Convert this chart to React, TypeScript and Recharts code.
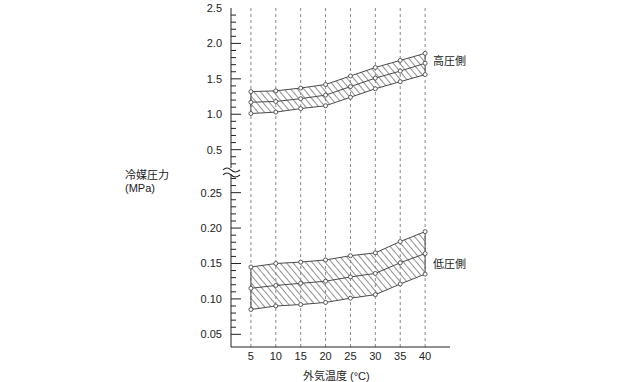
import { Area, ComposedChart, Line, ReferenceLine, XAxis, YAxis } from "recharts";

const temps = [5, 10, 15, 20, 25, 30, 35, 40];

// high pressure side (MPa)
const highUpper = [1.32, 1.33, 1.37, 1.42, 1.54, 1.66, 1.76, 1.86];
const highMid = [1.17, 1.18, 1.22, 1.27, 1.39, 1.51, 1.61, 1.72];
const highLower = [1.01, 1.03, 1.08, 1.12, 1.24, 1.36, 1.46, 1.56];

// low pressure side (MPa)
const lowUpper = [0.145, 0.15, 0.152, 0.155, 0.161, 0.165, 0.181, 0.195];
const lowMid = [0.115, 0.119, 0.122, 0.125, 0.131, 0.136, 0.151, 0.164];
const lowLower = [0.085, 0.09, 0.092, 0.095, 0.101, 0.106, 0.121, 0.135];

const highTickLabels = [0.5, 1.0, 1.5, 2.0, 2.5];
const lowTickLabels = [0.05, 0.1, 0.15, 0.2, 0.25];
const xTicks = [5, 10, 15, 20, 25, 30, 35, 40];

// broken axis: lower part as is, upper part compressed by 10
const HIGH_OFFSET = 0.2607;
const hi = (v: number) => v / 10 + HIGH_OFFSET;
const BREAK_U = 0.2792;

const data = temps.map((t, i) => ({
  t,
  hiBand: [hi(highLower[i]), hi(highUpper[i])],
  hiU: hi(highUpper[i]),
  hiM: hi(highMid[i]),
  hiL: hi(highLower[i]),
  loBand: [lowLower[i], lowUpper[i]],
  loU: lowUpper[i],
  loM: lowMid[i],
  loL: lowLower[i],
}));

type TickInfo = { label: string; major: boolean; brk?: boolean };
const tickMap = new Map<number, TickInfo>();
const key = (u: number) => Math.round(u * 100000) / 100000;
for (let k = 5; k <= 27; k++) {
  const v = k / 100;
  const lbl = lowTickLabels.find((l) => Math.abs(l - v) < 1e-9);
  tickMap.set(key(v), { label: lbl !== undefined ? lbl.toFixed(2) : "", major: lbl !== undefined });
}
for (let k = 3; k <= 24; k++) {
  const v = k / 10;
  const lbl = highTickLabels.find((l) => Math.abs(l - v) < 1e-9);
  tickMap.set(key(hi(v)), { label: lbl !== undefined ? lbl.toFixed(1) : "", major: lbl !== undefined });
}
tickMap.set(key(hi(2.5)), { label: "2.5", major: false });
tickMap.set(key(BREAK_U), { label: "", major: false, brk: true });
const yTicks = Array.from(tickMap.keys()).sort((a, b) => a - b);

const LINE = "#4a4a4a";
const FONT = "'Liberation Sans', Arial, sans-serif";
const JP = "'Liberation Sans', 'Noto Sans CJK JP', sans-serif";

function YTick(props: any) {
  const { x, y, payload } = props;
  const info = tickMap.get(key(payload.value));
  if (!info) return null;
  if (info.brk) {
    return (
      <g>
        <rect x={x - 8} y={y - 4} width={17} height={6} fill="#fff" />
        <path d={`M ${x - 8} ${y - 2} q 4 -4 8 0 t 9 0`} fill="none" stroke="#222" strokeWidth={1.1} />
        <path d={`M ${x - 8} ${y + 3} q 4 -4 8 0 t 9 0`} fill="none" stroke="#222" strokeWidth={1.1} />
      </g>
    );
  }
  const isTop = info.label === "2.5";
  return (
    <g>
      {!isTop && (
        <line x1={x} x2={x + (info.major ? 10 : 5)} y1={y} y2={y} stroke="#222" strokeWidth={1} />
      )}
      {info.label && (
        <text x={x - 9} y={y} dy={4} textAnchor="end" fontSize={11} fill="#222" fontFamily={FONT}>
          {info.label}
        </text>
      )}
    </g>
  );
}

function Dot(props: any) {
  const { cx, cy } = props;
  if (cx == null || cy == null) return null;
  return <circle cx={cx} cy={cy} r={2} fill="#fff" stroke={LINE} strokeWidth={0.9} />;
}

export default function App() {
  const lines = ["hiU", "hiM", "hiL", "loU", "loM", "loL"];
  const last = temps.length - 1;
  return (
    <div style={{ position: "absolute", left: 0, top: 0, width: 624, height: 382, background: "#fff" }}>
      <ComposedChart width={624} height={382} data={data} margin={{ top: 8, right: 174, bottom: 0, left: 0 }}>
        <defs>
          <pattern id="hatch" width={5} height={5} patternUnits="userSpaceOnUse" patternTransform="rotate(-40)">
            <line x1={0} y1={0} x2={0} y2={5} stroke="#222" strokeWidth={1} />
          </pattern>
        </defs>
        <XAxis
          dataKey="t"
          type="number"
          domain={[1, 45]}
          ticks={xTicks}
          interval={0}
          height={35}
          tickLine={false}
          tickSize={0}
          tickMargin={5}
          axisLine={{ stroke: "#222" }}
          tick={{ fontSize: 11, fill: "#222", fontFamily: FONT }}
        />
        <YAxis
          type="number"
          domain={[0.0321, hi(2.5)]}
          ticks={yTicks}
          interval={0}
          width={231}
          tickLine={false}
          tickSize={0}
          tickMargin={0}
          axisLine={{ stroke: "#222" }}
          tick={<YTick />}
          allowDataOverflow
        />
        {xTicks.map((t) => (
          <ReferenceLine key={`g${t}`} x={t} stroke="#8a8a8a" strokeDasharray="3 3" />
        ))}
        <Area dataKey="hiBand" type="linear" stroke="none" fill="url(#hatch)" fillOpacity={1} isAnimationActive={false} />
        <Area dataKey="loBand" type="linear" stroke="none" fill="url(#hatch)" fillOpacity={1} isAnimationActive={false} />
        <ReferenceLine
          segment={[
            { x: temps[0], y: hi(highLower[0]) },
            { x: temps[0], y: hi(highUpper[0]) },
          ]}
          stroke={LINE}
        />
        <ReferenceLine
          segment={[
            { x: temps[last], y: hi(highLower[last]) },
            { x: temps[last], y: hi(highUpper[last]) },
          ]}
          stroke={LINE}
        />
        <ReferenceLine
          segment={[
            { x: temps[0], y: lowLower[0] },
            { x: temps[0], y: lowUpper[0] },
          ]}
          stroke={LINE}
        />
        <ReferenceLine
          segment={[
            { x: temps[last], y: lowLower[last] },
            { x: temps[last], y: lowUpper[last] },
          ]}
          stroke={LINE}
        />
        {lines.map((k) => (
          <Line
            key={k}
            dataKey={k}
            type="linear"
            stroke={LINE}
            strokeWidth={1}
            dot={<Dot />}
            activeDot={false}
            isAnimationActive={false}
          />
        ))}
      </ComposedChart>
      <div style={{ position: "absolute", left: 433, top: 52, fontSize: 11, fontFamily: JP, color: "#222" }}>高圧側</div>
      <div style={{ position: "absolute", left: 433, top: 255, fontSize: 11, fontFamily: JP, color: "#222" }}>低圧側</div>
      <div style={{ position: "absolute", left: 125, top: 169, fontSize: 11, fontFamily: JP, color: "#222", lineHeight: "13px" }}>
        冷媒圧力
        <br />
        (MPa)
      </div>
      <div style={{ position: "absolute", left: 303, top: 367, fontSize: 11, fontFamily: JP, color: "#222" }}>外気温度 (°C)</div>
    </div>
  );
}
